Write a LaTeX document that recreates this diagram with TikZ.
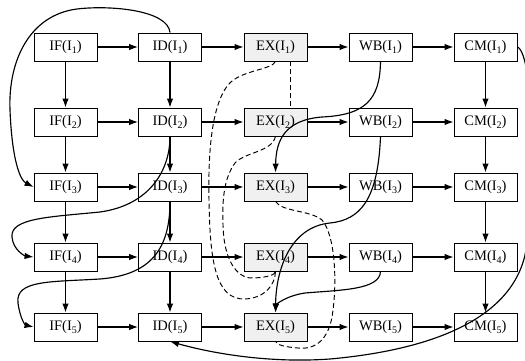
\documentclass[tikz,border=0pt]{standalone}
\usepackage{fontspec}
\setmainfont{Liberation Serif}
\usetikzlibrary{arrows.meta}
\newcommand\stagesub[1]{\raisebox{-0.45ex}{\fontsize{10}{10}\selectfont #1}}
\begin{document}
\begin{tikzpicture}[x=1pt,y=-1pt,
 stage/.style={draw,line width=0.9pt,minimum width=63pt,minimum height=28pt,inner sep=0pt,font=\fontsize{14.5}{16}\selectfont},
 exstage/.style={stage,fill=black!6},
 arr/.style={-{Latex[length=9pt,width=6.5pt]},line width=1.15pt},
 dep/.style={line width=0.95pt,dash pattern=on 5pt off 3pt},
]
\useasboundingbox (0,0) rectangle (525,361);
\foreach \r/\y in {1/47,2/122,3/187,4/257,5/327}{
  \node[stage] (IF\r) at (65.5,\y) {IF(I\stagesub{\r})};
  \node[stage] (ID\r) at (170,\y) {ID(I\stagesub{\r})};
  \node[exstage] (EX\r) at (275.5,\y) {EX(I\stagesub{\r})};
  \node[stage] (WB\r) at (380.5,\y) {WB(I\stagesub{\r})};
  \node[stage] (CM\r) at (485.5,\y) {CM(I\stagesub{\r})};
}
\foreach \r in {1,...,5}{
  \draw[arr] (IF\r) -- (ID\r);
  \draw[arr] (ID\r) -- (EX\r);
  \draw[arr] (EX\r) -- (WB\r);
  \draw[arr] (WB\r) -- (CM\r);
}
\foreach \a/\b in {1/2,2/3,3/4,4/5}{
  \draw[arr] (IF\a) -- (IF\b);
  \draw[arr] (ID\a) -- (ID\b);
  \draw[arr] (CM\a) -- (CM\b);
}
% solid curved dependencies
\draw[arr] (ID1.north) .. controls (168,10) and (110,5) .. (77,9) .. controls (30,15) and (8,60) .. (10,110) .. controls (12,160) and (20,180) .. (IF3.west);
\draw[arr] (ID2.south) .. controls (170,170) and (150,205) .. (100,212) .. controls (50,217) and (10,218) .. (12,237) .. controls (13,250) and (25,256) .. (IF4.west);
\draw[arr] (ID3.south) .. controls (170,250) and (150,275) .. (100,279) .. controls (50,282) and (15,280) .. (18,303) .. controls (20,318) and (25,325) .. (IF5.west);
\draw[arr] (WB1.south) .. controls (380,100) and (365,115) .. (322,117) .. controls (285,120) and (276,140) .. (EX3.north);
\draw[arr] (WB2.south) .. controls (378,200) and (360,220) .. (330,223) .. controls (290,227) and (276,270) .. (EX5.north);
\draw[arr] (WB4.south) .. controls (380,290) and (340,290) .. (305,293) .. controls (285,296) and (276,305) .. (EX5.north);
\draw[arr] (CM1.east) .. controls (535,55) and (535,200) .. (525,255) .. controls (510,320) and (430,350) .. (330,359) .. controls (260,364) and (200,350) .. (ID5.south);
% dashed dependencies
\draw[dep] ([xshift=14.5pt]EX1.south) -- ([xshift=14.5pt]EX2.north);
\draw[dep] (EX1.south) .. controls (272,70) and (240,70) .. (228,85) .. controls (212,105) and (208,150) .. (209,200) .. controls (210,260) and (215,300) .. (245,299) .. controls (265,298) and (275,285) .. (EX4.south);
\draw[dep] (EX2.south) .. controls (272,152) and (245,152) .. (235,163) .. controls (224,178) and (222,200) .. (223,225) .. controls (224,265) and (240,280) .. (255,278) .. controls (268,277) and (275,275) .. (EX4.south);
\draw[dep] (EX3.south) .. controls (282,212) and (310,210) .. (322,220) .. controls (335,235) and (337,280) .. (333,310) .. controls (330,340) and (315,350) .. (298,348) .. controls (285,347) and (277,345) .. (EX5.south);
\end{tikzpicture}
\end{document}
